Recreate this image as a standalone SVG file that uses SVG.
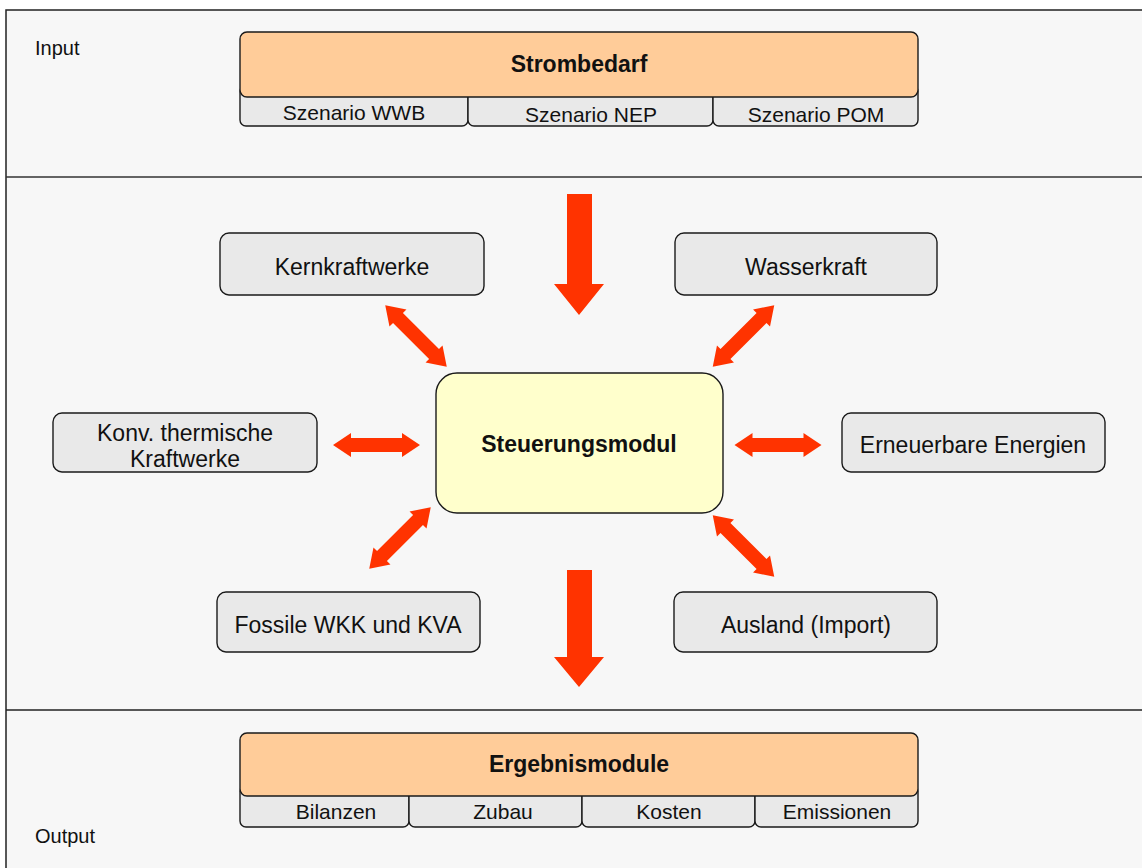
<svg xmlns="http://www.w3.org/2000/svg" width="1142" height="868" viewBox="0 0 1142 868">
<style>
.t{font-family:"Liberation Sans",Arial,sans-serif;fill:#111;}
.s{font-size:20px;}
.sc{font-size:21px;text-anchor:middle;}
.m{font-size:23px;text-anchor:middle;}
.b{font-size:23px;font-weight:bold;text-anchor:middle;}
.node{fill:#e9e9e9;stroke:#1a1a1a;stroke-width:1.4;}
.tab{fill:#e9e9e9;stroke:#1a1a1a;stroke-width:1.4;}
.head{fill:#ffcc99;stroke:#1a1a1a;stroke-width:1.4;}
.arr{fill:#ff3300;}
</style>
<defs>
<path id="dbl" d="M-43.5 0 L-25.5 -12 L-25.5 -7 L25.5 -7 L25.5 -12 L43.5 0 L25.5 12 L25.5 7 L-25.5 7 L-25.5 12 Z"/>
</defs>
<rect x="0" y="0" width="1142" height="868" fill="#ffffff"/>
<g id="frame">
<rect x="6" y="10" width="1200" height="900" fill="#f7f7f7" stroke="#222" stroke-width="1.5"/>
<line x1="6" y1="177" x2="1142" y2="177" stroke="#333" stroke-width="1.5"/>
<line x1="6" y1="710" x2="1142" y2="710" stroke="#222" stroke-width="1.5"/>
<text class="t s" x="35" y="55">Input</text>
<text class="t s" x="35" y="843">Output</text>
</g>
<g id="strombedarf">
<rect class="tab" x="240" y="85" width="228" height="41" rx="6"/>
<rect class="tab" x="468" y="85" width="245" height="41" rx="6"/>
<rect class="tab" x="713" y="85" width="205" height="41" rx="6"/>
<rect class="head" x="240" y="32" width="678" height="65" rx="7"/>
<text class="t b" x="579" y="72">Strombedarf</text>
<text class="t sc" x="354" y="120">Szenario WWB</text>
<text class="t sc" x="591" y="122">Szenario NEP</text>
<text class="t sc" x="816" y="122">Szenario POM</text>
</g>
<g id="kernkraftwerke">
<rect class="node" x="220" y="233" width="264" height="62" rx="9"/>
<text class="t m" x="352" y="275">Kernkraftwerke</text>
</g>
<g id="wasserkraft">
<rect class="node" x="675" y="233" width="262" height="62" rx="9"/>
<text class="t m" x="806" y="275">Wasserkraft</text>
</g>
<g id="konv">
<rect class="node" x="53" y="413" width="264" height="59" rx="9"/>
<text class="t m" x="185" y="441">Konv. thermische</text>
<text class="t m" x="185" y="467">Kraftwerke</text>
</g>
<g id="steuerungsmodul">
<rect x="436" y="373" width="287" height="140" rx="21" fill="#ffffcc" stroke="#1a1a1a" stroke-width="1.4"/>
<text class="t b" x="579" y="452">Steuerungsmodul</text>
</g>
<g id="erneuerbare">
<rect class="node" x="842" y="413" width="263" height="59" rx="9"/>
<text class="t m" x="973" y="453">Erneuerbare Energien</text>
</g>
<g id="fossile">
<rect class="node" x="217" y="592" width="263" height="60" rx="9"/>
<text class="t m" x="348" y="633">Fossile WKK und KVA</text>
</g>
<g id="ausland">
<rect class="node" x="674" y="592" width="263" height="60" rx="9"/>
<text class="t m" x="806" y="633">Ausland (Import)</text>
</g>
<g id="ergebnismodule">
<rect class="tab" x="240" y="785" width="169" height="42" rx="6"/>
<rect class="tab" x="409" y="785" width="173" height="42" rx="6"/>
<rect class="tab" x="582" y="785" width="173" height="42" rx="6"/>
<rect class="tab" x="755" y="785" width="163" height="42" rx="6"/>
<rect class="head" x="240" y="733" width="678" height="63" rx="7"/>
<text class="t b" x="579" y="772">Ergebnismodule</text>
<text class="t sc" x="336" y="819">Bilanzen</text>
<text class="t sc" x="503" y="819">Zubau</text>
<text class="t sc" x="669" y="819">Kosten</text>
<text class="t sc" x="837" y="819">Emissionen</text>
</g>
<g id="connectors" class="arr">
<path d="M567 194 H592 V284 H604 L579 315 L554 284 H567 Z"/>
<path d="M567 570 H592 V657 H604 L579 687 L554 657 H567 Z"/>
<use href="#dbl" transform="translate(416 336) rotate(45)"/>
<use href="#dbl" transform="translate(743.5 336) rotate(135)"/>
<use href="#dbl" transform="translate(376.5 445)"/>
<use href="#dbl" transform="translate(778 445)"/>
<use href="#dbl" transform="translate(400 538) rotate(-45)"/>
<use href="#dbl" transform="translate(743.5 546) rotate(45)"/>
</g>
</svg>
